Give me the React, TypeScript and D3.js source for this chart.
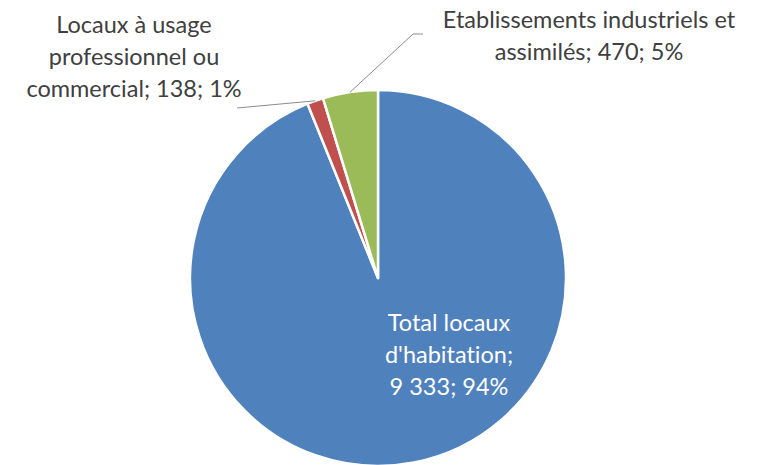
import React, { useEffect, useRef } from "react";
import * as d3 from "d3";

const categories = [
  "Total locaux d'habitation",
  "Locaux à usage professionnel ou commercial",
  "Etablissements industriels et assimilés",
];
const values = [9333, 138, 470];
const percents = ["94%", "1%", "5%"];
const valueLabels = ["9 333", "138", "470"];
const colors = ["#4F81BD", "#C0504D", "#9BBB59"];

const App = () => {
  const chartRef = useRef(null);

  useEffect(() => {
    drawChart();
  }, []);

  const drawChart = () => {
    const width = 763;
    const height = 465;
    const cx = 378;
    const cy = 278;
    const radius = 188;
    const font = "Lato, 'DejaVu Sans', sans-serif";

    const svg = d3.select(chartRef.current);
    svg.selectAll("*").remove();
    svg.attr("width", width).attr("height", height);

    const data = categories.map((c, i) => ({
      name: c,
      value: values[i],
      pct: percents[i],
      label: valueLabels[i],
      color: colors[i],
    }));

    const pie = d3
      .pie()
      .value((d) => d.value)
      .sort(null);
    const arcs = pie(data);

    const arc = d3.arc().innerRadius(0).outerRadius(radius);
    const edge = d3.arc().innerRadius(radius).outerRadius(radius);

    const g = svg.append("g").attr("transform", `translate(${cx},${cy})`);

    g.selectAll("path")
      .data(arcs)
      .enter()
      .append("path")
      .attr("d", arc)
      .attr("fill", (d) => d.data.color)
      .attr("stroke", "#fff")
      .attr("stroke-width", 2.5)
      .attr("stroke-linejoin", "round");

    // leader lines for the two small slices (label ends are layout positions)
    const leaderEnds = [null, [[237 - cx, 108 - cy]], [[413 - cx, 34 - cy], [423 - cx, 34 - cy]]];
    arcs.forEach((d, i) => {
      if (!leaderEnds[i]) return;
      const start = edge.centroid(d);
      g.append("path")
        .attr("d", d3.line()([start, ...leaderEnds[i]]))
        .attr("fill", "none")
        .attr("stroke", "#8c8c8c")
        .attr("stroke-width", 1);
    });

    const labelLines = [
      ["Total locaux", "d'habitation;", `${valueLabels[0]}; ${percents[0]}`],
      ["Locaux à usage", "professionnel ou", `commercial; ${valueLabels[1]}; ${percents[1]}`],
      ["Etablissements industriels et", `assimilés; ${valueLabels[2]}; ${percents[2]}`],
    ];
    const labelPos = [
      { x: 449, y: 331, fill: "#ffffff" },
      { x: 134, y: 33, fill: "#404040" },
      { x: 589, y: 28, fill: "#404040" },
    ];

    labelLines.forEach((lines, i) => {
      const t = svg
        .append("text")
        .attr("text-anchor", "middle")
        .attr("font-family", font)
        .attr("font-size", 23.5)
        .style("font-variant-ligatures", "none")
        .attr("fill", labelPos[i].fill);
      lines.forEach((ln, j) => {
        t.append("tspan")
          .attr("x", labelPos[i].x)
          .attr("y", labelPos[i].y + j * 32)
          .text(ln);
      });
    });
  };

  return (
    <div style={{ position: "absolute", left: 0, top: 0 }}>
      <svg ref={chartRef} style={{ display: "block" }}></svg>
    </div>
  );
};

export default App;
